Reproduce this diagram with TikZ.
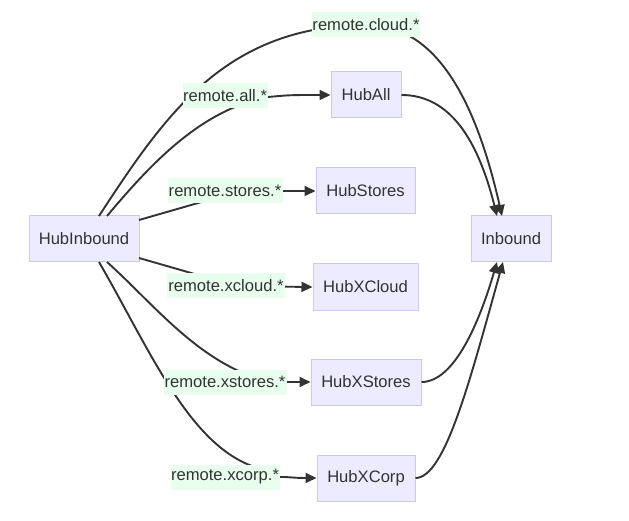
\documentclass[tikz,border=0pt]{standalone}
\usepackage{fontspec}
\setmainfont{Liberation Sans}
\usetikzlibrary{arrows.meta}
\definecolor{nodefill}{HTML}{ECEBFF}
\definecolor{nodeline}{HTML}{CFC6F4}
\definecolor{lblfill}{HTML}{E8FFEE}
\definecolor{ink}{HTML}{333333}
\tikzset{
  box/.style={draw=nodeline, fill=nodefill, line width=1pt, minimum height=46pt, inner sep=0pt, text=ink, font=\fontsize{16.6}{19}\selectfont},
  lbl/.style={fill=lblfill, inner sep=0pt, minimum height=25pt, text=ink, font=\fontsize{16.6}{19}\selectfont},
  conn/.style={draw=ink, line width=1.9pt},
  arr/.style={conn, -{Triangle[length=11pt,width=10pt]}},
}
\begin{document}
\begin{tikzpicture}[x=1pt,y=-1pt]
\useasboundingbox (0,0) rectangle (629,521);
% nodes
\node[box, minimum width=110pt] (hubin) at (84,239) {HubInbound};
\node[box, minimum width=80pt] (inb) at (511,239) {Inbound};
\node[box, minimum width=70pt] (all) at (366,95) {HubAll};
\node[box, minimum width=99pt] (stores) at (365.5,191) {HubStores};
\node[box, minimum width=105pt] (xcloud) at (365.5,287) {HubXCloud};
\node[box, minimum width=110pt] (xstores) at (366,382) {HubXStores};
\node[box, minimum width=98pt] (xcorp) at (366,478) {HubXCorp};
% anchor coordinates on borders
\coordinate (s1) at (99,216);
\coordinate (s2) at (107,216);
\coordinate (s3) at (139,220);
\coordinate (s4) at (139,258);
\coordinate (s5) at (107,262);
\coordinate (s6) at (99,262);
\coordinate (t1) at (502,216);
\coordinate (t2) at (497,216);
\coordinate (t3) at (497,262);
\coordinate (t4) at (503,262);
\coordinate (c1) at (366,25);
\coordinate (c2) at (225,96);
\coordinate (c3) at (225,191);
\coordinate (c4) at (226,286);
\coordinate (c5) at (225,382);
\coordinate (c6) at (225,477);
\coordinate (e2) at (268,97);
\coordinate (e5) at (270,382);
% edges
\draw[arr] (s1) .. controls (165,115) and (225,26) .. (c1) .. controls (440,24) and (478,110) .. (t1);
\draw[conn] (s2) .. controls (150,165) and (200,110) .. (e2);
\draw[arr] (e2) .. controls (290,95) .. (all.west);
\draw[arr] (all.east) .. controls (450,95) and (478,140) .. (t2);
\draw[conn] (s3) -- (212,199) .. controls (220,193) .. (c3);
\draw[arr] (c3) -- (stores.west);
\draw[conn] (s4) -- (212,279) .. controls (220,285) .. (c4);
\draw[arr] (c4) -- (xcloud.west);
\draw[conn] (s5) .. controls (155,305) and (200,365) .. (e5);
\draw[arr] (e5) -- (xstores.west);
\draw[conn] (s6) .. controls (150,350) and (190,448) .. (258,468) .. controls (270,476) .. (c6);
\draw[arr] (c6) -- (285,477) .. controls (300,478) .. (xcorp.west);
\draw[arr] (xstores.east) .. controls (455,382) and (480,320) .. (t3);
\draw[arr] (xcorp.east) .. controls (445,478) and (470,380) .. (t4);
% labels
\node[lbl, minimum width=108pt] (l1) at (c1) {remote.cloud.*};
\node[lbl, minimum width=85pt] (l2) at (c2) {remote.all.*};
\node[lbl, minimum width=115pt] (l3) at (c3) {remote.stores.*};
\node[lbl, minimum width=118pt] (l4) at (c4) {remote.xcloud.*};
\node[lbl, minimum width=123pt] (l5) at (c5) {remote.xstores.*};
\node[lbl, minimum width=109pt] (l6) at (c6) {remote.xcorp.*};
\end{tikzpicture}
\end{document}
